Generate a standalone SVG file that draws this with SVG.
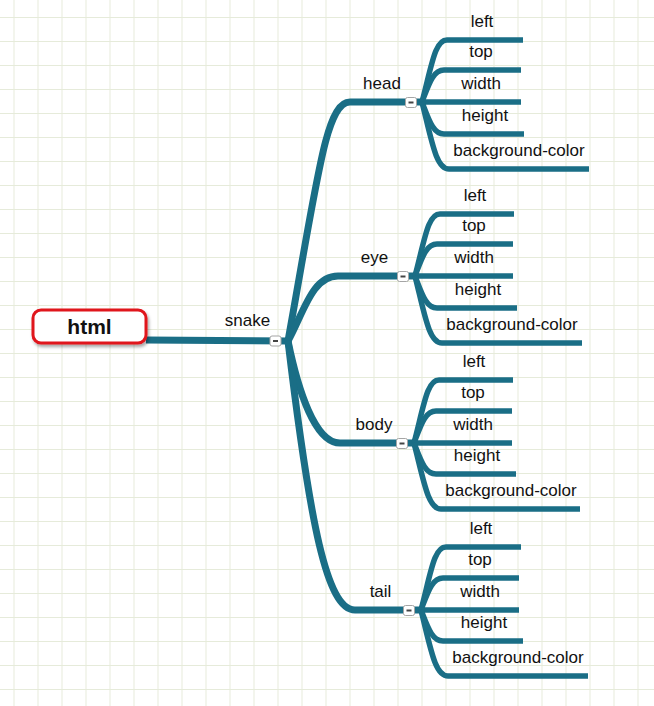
<svg xmlns="http://www.w3.org/2000/svg" width="654" height="706" viewBox="0 0 654 706">
<defs>
<pattern id="grid" x="13.5" y="17" width="24" height="24" patternUnits="userSpaceOnUse">
<path d="M0,0.5 H24 M0.5,0 V24" fill="none" stroke="#e6ebda" stroke-width="1"/>
</pattern>
<filter id="shadow" x="-20%" y="-30%" width="140%" height="170%">
<feDropShadow dx="1.5" dy="2.5" stdDeviation="1.5" flood-color="#000" flood-opacity="0.35"/>
</filter>
</defs>
<style>
.main{fill:none;stroke:#1a6e86;stroke-width:7;stroke-linecap:butt;stroke-linejoin:round}
.sub{fill:none;stroke:#1a6e86;stroke-width:5.5;stroke-linecap:butt;stroke-linejoin:round}
.lbl{font-family:"Liberation Sans",Arial,sans-serif;font-size:17px;fill:#111;text-anchor:middle}
.btn rect{fill:#fff;stroke:#a5a5a5;stroke-width:1}
.btn line{stroke:#444;stroke-width:2}
</style>
<rect width="654" height="706" fill="#fff"/>
<rect width="654" height="706" fill="url(#grid)"/>

<g id="connectors">
<path class="main" d="M146,340 L290,341"/>
<path class="main" d="M288,341 C318,175 326,102 350,102 L422,102"/>
<path class="main" d="M288,341 C304,312 312,276 338,276 L415,276"/>
<path class="main" d="M288,341 C298,390 315,443 340,443 L414,443"/>
<path class="main" d="M288,341 C310,525 327,610 355,610 L421,610"/>

<path class="sub" d="M422,102 C432,64 435,40 447,40 L523,40"/>
<path class="sub" d="M422,102 C429,84 433,70 444,70 L521,70"/>
<path class="sub" d="M422,102 L521,102"/>
<path class="sub" d="M422,102 C429,120 433,134 444,134 L524,134"/>
<path class="sub" d="M422,102 C432,142 436,169 449,169 L589,169"/>

<path class="sub" d="M415,276 C425,238 428,214 440,214 L514,214"/>
<path class="sub" d="M415,276 C422,258 426,244 437,244 L513,244"/>
<path class="sub" d="M415,276 L513,276"/>
<path class="sub" d="M415,276 C422,294 426,308 437,308 L517,308"/>
<path class="sub" d="M415,276 C425,316 429,343 442,343 L582,343"/>

<path class="sub" d="M414,443 C424,405 427,380 439,380 L513,380"/>
<path class="sub" d="M414,443 C421,425 425,411 436,411 L512,411"/>
<path class="sub" d="M414,443 L512,443"/>
<path class="sub" d="M414,443 C421,461 425,474 436,474 L516,474"/>
<path class="sub" d="M414,443 C424,482 428,509 441,509 L580,509"/>

<path class="sub" d="M421,610 C431,572 434,547 446,547 L521,547"/>
<path class="sub" d="M421,610 C428,592 432,578 443,578 L519,578"/>
<path class="sub" d="M421,610 L519,610"/>
<path class="sub" d="M421,610 C428,628 432,641 443,641 L523,641"/>
<path class="sub" d="M421,610 C431,650 435,676 448,676 L588,676"/>
</g>

<g id="node-html">
<rect x="33" y="310" width="113" height="33" rx="8" fill="#fff" stroke="#e0141c" stroke-width="3" filter="url(#shadow)"/>
<text x="89.5" y="334" font-family="Liberation Sans,Arial,sans-serif" font-size="21" font-weight="bold" fill="#111" text-anchor="middle">html</text>
</g>

<g id="node-snake">
<text class="lbl" x="247.5" y="326">snake</text>
<g class="btn"><rect x="270" y="336" width="11" height="10" rx="2"/><line x1="273" y1="341" x2="278" y2="341"/></g>
</g>

<g id="node-head">
<text class="lbl" x="382" y="89">head</text>
<g class="btn"><rect x="405.5" y="97.5" width="11" height="10" rx="2"/><line x1="408.5" y1="102.5" x2="413.5" y2="102.5"/></g>
</g>
<g id="node-head-children">
<text class="lbl" x="482" y="27">left</text>
<text class="lbl" x="481" y="57">top</text>
<text class="lbl" x="481" y="88.5">width</text>
<text class="lbl" x="485" y="120.5">height</text>
<text class="lbl" x="519" y="156">background-color</text>
</g>

<g id="node-eye">
<text class="lbl" x="374.5" y="263">eye</text>
<g class="btn"><rect x="397.5" y="271.5" width="11" height="10" rx="2"/><line x1="400.5" y1="276.5" x2="405.5" y2="276.5"/></g>
</g>
<g id="node-eye-children">
<text class="lbl" x="475" y="201">left</text>
<text class="lbl" x="474" y="231">top</text>
<text class="lbl" x="474" y="262.5">width</text>
<text class="lbl" x="478" y="294.5">height</text>
<text class="lbl" x="512" y="329.5">background-color</text>
</g>

<g id="node-body">
<text class="lbl" x="374" y="430">body</text>
<g class="btn"><rect x="396.5" y="438.5" width="11" height="10" rx="2"/><line x1="399.5" y1="443.5" x2="404.5" y2="443.5"/></g>
</g>
<g id="node-body-children">
<text class="lbl" x="474" y="367">left</text>
<text class="lbl" x="473" y="397.5">top</text>
<text class="lbl" x="473" y="429.5">width</text>
<text class="lbl" x="477" y="460.7">height</text>
<text class="lbl" x="511" y="495.7">background-color</text>
</g>

<g id="node-tail">
<text class="lbl" x="380.5" y="597">tail</text>
<g class="btn"><rect x="403.5" y="605.5" width="11" height="10" rx="2"/><line x1="406.5" y1="610.5" x2="411.5" y2="610.5"/></g>
</g>
<g id="node-tail-children">
<text class="lbl" x="481" y="533.7">left</text>
<text class="lbl" x="480" y="564.7">top</text>
<text class="lbl" x="480" y="596.5">width</text>
<text class="lbl" x="484" y="627.7">height</text>
<text class="lbl" x="518" y="662.5">background-color</text>
</g>
</svg>
